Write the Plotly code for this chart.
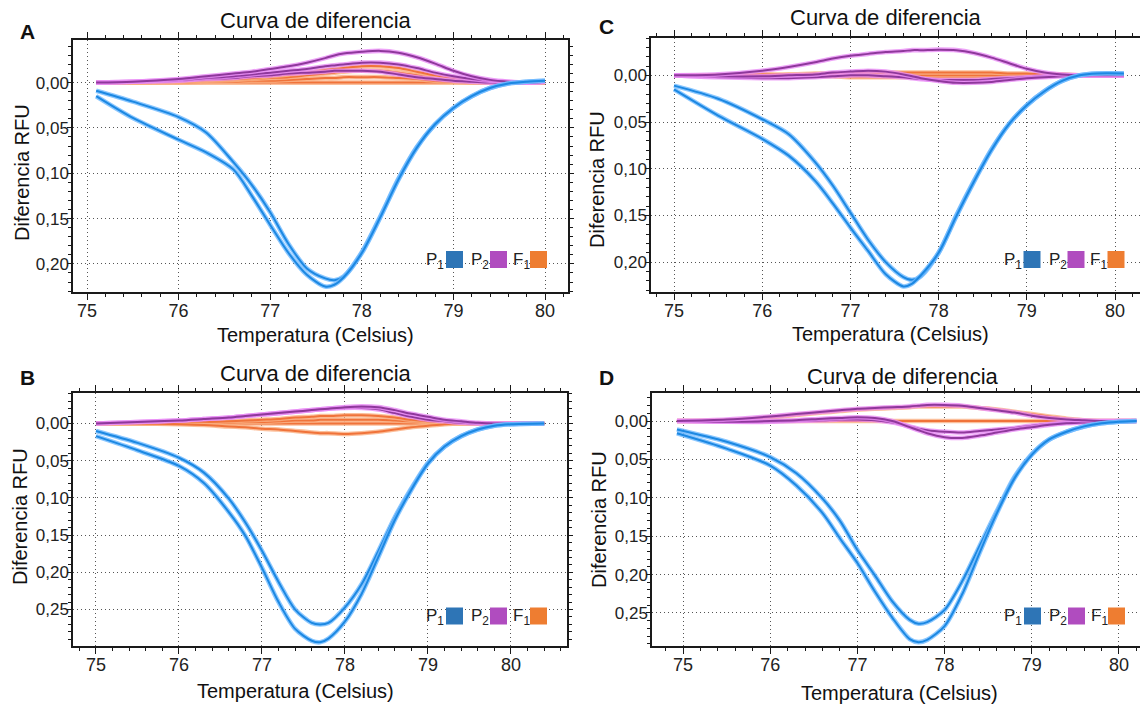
import plotly.graph_objects as go

W, H = 1140, 704

# ---------------- DATA ----------------
# Panel A
x_A = [75.1, 75.5, 76.0, 76.3, 76.6, 76.8, 77.0, 77.2, 77.4, 77.6, 77.7, 77.8, 78.0, 78.2, 78.4, 78.6, 78.8, 79.0, 79.2, 79.4, 79.6, 79.8, 80.0]
A_blue1 = [0.009, 0.021, 0.038, 0.055, 0.088, 0.113, 0.143, 0.178, 0.205, 0.216, 0.218, 0.214, 0.187, 0.148, 0.106, 0.071, 0.046, 0.028, 0.015, 0.006, 0.001, -0.001, -0.002]
A_blue2 = [0.015, 0.039, 0.063, 0.077, 0.096, 0.125, 0.157, 0.188, 0.212, 0.225, 0.223, 0.215, 0.188, 0.149, 0.107, 0.072, 0.046, 0.028, 0.015, 0.006, 0.001, -0.001, -0.002]
A_purple1 = [0, -0.001, -0.004, -0.007, -0.010, -0.012, -0.015, -0.018, -0.022, -0.027, -0.030, -0.032, -0.034, -0.035, -0.033, -0.028, -0.021, -0.013, -0.007, -0.003, -0.001, 0.0, -0.001]
A_purple2 = [0, -0.001, -0.003, -0.005, -0.007, -0.009, -0.011, -0.013, -0.015, -0.018, -0.019, -0.020, -0.022, -0.022, -0.020, -0.016, -0.011, -0.007, -0.004, -0.002, -0.001, 0.0, -0.001]
A_purple3 = [0, -0.001, -0.002, -0.004, -0.005, -0.007, -0.008, -0.010, -0.011, -0.012, -0.013, -0.013, -0.013, -0.012, -0.009, -0.006, -0.004, -0.002, -0.001, 0.0, 0.0, 0.0, -0.001]
A_orange1 = [0, 0.0, -0.002, -0.003, -0.004, -0.005, -0.007, -0.009, -0.011, -0.014, -0.015, -0.016, -0.018, -0.018, -0.016, -0.012, -0.008, -0.005, -0.002, -0.001, 0.0, 0.0, 0.0]
A_orange2 = [0, 0.0, -0.001, -0.002, -0.003, -0.004, -0.005, -0.006, -0.008, -0.010, -0.011, -0.012, -0.013, -0.013, -0.011, -0.008, -0.005, -0.003, -0.001, 0.0, 0.0, 0.0, 0.0]
A_orange3 = [0, 0.0, 0.0, -0.001, -0.001, -0.002, -0.002, -0.003, -0.004, -0.005, -0.005, -0.006, -0.006, -0.006, -0.005, -0.004, -0.002, -0.001, 0.0, 0.0, 0.0, 0.0, 0.0]
A_orange4 = [0.0] * 23

# Panel C
x_C = [75.0, 75.5, 76.0, 76.3, 76.6, 76.8, 77.0, 77.2, 77.4, 77.6, 77.7, 77.8, 78.0, 78.2, 78.4, 78.6, 78.8, 79.0, 79.2, 79.4, 79.6, 79.8, 80.1]
C_blue1 = [0.011, 0.025, 0.047, 0.063, 0.093, 0.118, 0.147, 0.176, 0.200, 0.216, 0.219, 0.215, 0.190, 0.150, 0.113, 0.079, 0.052, 0.032, 0.017, 0.006, 0.0, -0.002, -0.002]
C_blue2 = [0.015, 0.043, 0.068, 0.086, 0.113, 0.137, 0.163, 0.188, 0.213, 0.226, 0.223, 0.214, 0.190, 0.151, 0.114, 0.080, 0.052, 0.032, 0.017, 0.006, 0.0, -0.002, -0.002]
C_purple1 = [0, -0.001, -0.005, -0.009, -0.014, -0.018, -0.021, -0.023, -0.025, -0.026, -0.027, -0.027, -0.0275, -0.027, -0.024, -0.019, -0.013, -0.007, -0.003, -0.001, 0.0, 0.0, 0.0]
C_purple2 = [0, 0.001, 0.001, 0.0, -0.001, -0.003, -0.004, -0.005, -0.004, -0.001, 0.001, 0.003, 0.006, 0.008, 0.008, 0.007, 0.005, 0.003, 0.002, 0.001, 0.0, 0.0, 0.0]
C_purple3 = [0, 0.002, 0.003, 0.003, 0.002, 0.001, 0.0, 0.0, 0.001, 0.002, 0.003, 0.004, 0.005, 0.005, 0.005, 0.004, 0.003, 0.002, 0.001, 0.0, 0.0, 0.0, 0.0]
C_orange1 = [0, 0.0, -0.001, -0.001, -0.002, -0.002, -0.002, -0.003, -0.003, -0.003, -0.003, -0.003, -0.003, -0.003, -0.003, -0.003, -0.002, -0.002, -0.001, -0.001, 0.0, 0.0, 0.0]
C_orange2 = [0.0] * 23
C_orange3 = [0, 0.0, 0.0, 0.001, 0.001, 0.001, 0.002, 0.002, 0.002, 0.002, 0.002, 0.002, 0.002, 0.002, 0.002, 0.002, 0.001, 0.001, 0.001, 0.0, 0.0, 0.0, 0.0]

# Panel B
x_B = [75.0, 75.5, 76.0, 76.3, 76.6, 76.8, 77.0, 77.2, 77.4, 77.6, 77.7, 77.8, 78.0, 78.2, 78.4, 78.6, 78.8, 79.0, 79.2, 79.4, 79.6, 79.8, 80.0, 80.4]
B_blue1 = [0.010, 0.026, 0.046, 0.066, 0.101, 0.133, 0.171, 0.213, 0.250, 0.268, 0.270, 0.268, 0.247, 0.216, 0.172, 0.126, 0.087, 0.053, 0.031, 0.017, 0.008, 0.003, 0.001, 0.0]
B_blue2 = [0.017, 0.036, 0.057, 0.080, 0.119, 0.151, 0.194, 0.240, 0.276, 0.292, 0.294, 0.289, 0.266, 0.229, 0.180, 0.130, 0.089, 0.054, 0.031, 0.017, 0.008, 0.003, 0.001, 0.0]
B_purple1 = [0, -0.002, -0.004, -0.006, -0.008, -0.010, -0.012, -0.014, -0.016, -0.018, -0.019, -0.020, -0.022, -0.023, -0.022, -0.018, -0.013, -0.009, -0.005, -0.003, -0.001, 0.0, 0.0, 0.0]
B_purple2 = [0, -0.002, -0.004, -0.006, -0.008, -0.010, -0.012, -0.014, -0.016, -0.018, -0.019, -0.020, -0.021, -0.021, -0.019, -0.014, -0.009, -0.005, -0.003, -0.001, 0.0, 0.0, 0.0, 0.0]
B_orange1 = [0, 0.0, -0.001, -0.002, -0.003, -0.004, -0.005, -0.006, -0.008, -0.009, -0.010, -0.010, -0.011, -0.011, -0.010, -0.008, -0.005, -0.003, -0.002, -0.001, 0.0, 0.0, 0.0, 0.0]
B_orange2 = [0, 0.0, 0.0, -0.001, -0.001, -0.002, -0.002, -0.003, -0.004, -0.004, -0.005, -0.005, -0.005, -0.005, -0.005, -0.004, -0.003, -0.002, -0.001, 0.0, 0.0, 0.0, 0.0, 0.0]
B_orange3 = [0.0] * 24
B_orange4 = [0, 0.0, 0.001, 0.002, 0.004, 0.005, 0.007, 0.008, 0.010, 0.012, 0.013, 0.013, 0.014, 0.013, 0.011, 0.008, 0.005, 0.003, 0.001, 0.0, 0.0, 0.0, 0.0, 0.0]

# Panel D
x_D = [74.93, 75.5, 76.0, 76.3, 76.6, 76.8, 77.0, 77.2, 77.4, 77.6, 77.7, 77.8, 78.0, 78.2, 78.4, 78.6, 78.8, 79.0, 79.2, 79.4, 79.6, 79.8, 80.0, 80.2]
D_blue1 = [0.011, 0.027, 0.047, 0.068, 0.101, 0.130, 0.168, 0.201, 0.235, 0.259, 0.264, 0.262, 0.246, 0.209, 0.163, 0.117, 0.073, 0.043, 0.024, 0.014, 0.007, 0.003, 0.001, 0.0]
D_blue2 = [0.016, 0.036, 0.058, 0.084, 0.120, 0.153, 0.185, 0.222, 0.256, 0.284, 0.288, 0.285, 0.267, 0.226, 0.172, 0.120, 0.075, 0.044, 0.024, 0.014, 0.007, 0.003, 0.001, 0.0]
D_purple1 = [0, -0.002, -0.006, -0.009, -0.012, -0.014, -0.016, -0.017, -0.018, -0.019, -0.020, -0.021, -0.021, -0.020, -0.017, -0.014, -0.011, -0.007, -0.004, -0.002, -0.001, 0.0, 0.0, 0.0]
D_purple2 = [0, 0.001, 0.0, -0.001, -0.003, -0.004, -0.005, -0.004, 0.0, 0.008, 0.012, 0.016, 0.021, 0.022, 0.019, 0.015, 0.011, 0.008, 0.005, 0.003, 0.002, 0.001, 0.0, 0.0]
D_purple3 = [0, 0.001, 0.001, 0.0, -0.001, -0.002, -0.002, -0.001, 0.002, 0.007, 0.010, 0.012, 0.014, 0.015, 0.013, 0.011, 0.009, 0.006, 0.004, 0.002, 0.001, 0.0, 0.0, 0.0]
D_orange1 = [0, -0.001, -0.005, -0.008, -0.011, -0.013, -0.015, -0.016, -0.017, -0.018, -0.019, -0.019, -0.019, -0.019, -0.017, -0.015, -0.012, -0.009, -0.006, -0.003, -0.001, 0.0, 0.0, 0.0]
D_orange2 = [0.0] * 24

panel_titles = ["Curva de diferencia"] * 4
panel_letters = ["A", "C", "B", "D"]
x_title = "Temperatura (Celsius)"
y_title = "Diferencia RFU"
legend_labels = ["P<sub>1</sub>", "P<sub>2</sub>", "F<sub>1</sub>"]
legend_colors = ["#2e75b6", "#b04cbf", "#ee7d31"]

# ---------------- STYLE ----------------
BLUE = ("#1c88e2", "rgba(110,185,255,0.8)")
PURPLE = ("#8f389c", "rgba(232,140,245,0.8)")
ORANGE = ("#f0733a", "rgba(250,175,130,0.8)")
FONT = "Liberation Sans, Arial, sans-serif"

panels = [
    dict(ax="", x=x_A,
         series=[(A_orange4, ORANGE), (A_orange3, ORANGE), (A_orange2, ORANGE), (A_orange1, ORANGE),
                 (A_purple3, PURPLE), (A_purple2, PURPLE), (A_purple1, PURPLE),
                 (A_blue1, BLUE), (A_blue2, BLUE)],
         xd=(73, 568), yd=(40, 292), xr=[74.847, 80.251], yr=[0.231, -0.047], mirror_y=True,
         title=(316, 20), letter=(27, 31), xt=(316, 335), yt=(22, 173), leg=(547, 259.5)),
    dict(ax="2", x=x_C,
         series=[(C_orange3, ORANGE), (C_orange2, ORANGE), (C_orange1, ORANGE),
                 (C_purple3, PURPLE), (C_purple2, PURPLE), (C_purple1, PURPLE),
                 (C_blue1, BLUE), (C_blue2, BLUE)],
         xd=(651, 1140), yd=(38, 292), xr=[74.739, 80.283], yr=[0.232, -0.040], mirror_y=False,
         title=(886, 17), letter=(606, 27), xt=(890, 334), yt=(597, 180), leg=(1124.5, 259.5)),
    dict(ax="3", x=x_B,
         series=[(B_orange3, ORANGE), (B_orange2, ORANGE), (B_orange1, ORANGE), (B_orange4, ORANGE),
                 (B_purple2, PURPLE), (B_purple1, PURPLE),
                 (B_blue1, BLUE), (B_blue2, BLUE)],
         xd=(73, 567), yd=(393, 646), xr=[74.723, 80.675], yr=[0.299, -0.041], mirror_y=True,
         title=(316, 373), letter=(27, 377), xt=(296, 691), yt=(20, 517), leg=(547, 616)),
    dict(ax="4", x=x_D,
         series=[(D_orange2, ORANGE), (D_orange1, ORANGE),
                 (D_purple3, PURPLE), (D_purple2, PURPLE), (D_purple1, PURPLE),
                 (D_blue1, BLUE), (D_blue2, BLUE)],
         xd=(652, 1140), yd=(393, 646), xr=[74.644, 80.241], yr=[0.293, -0.0365], mirror_y=False,
         title=(903, 376), letter=(606, 377), xt=(899, 693), yt=(599, 520), leg=(1125, 616)),
]


def px(x):
    return x / W


def py(y):
    return 1 - y / H


fig = go.Figure()
annotations = []
shapes = []
layout_axes = {}

for i, p in enumerate(panels):
    s = p["ax"]
    xa, ya = "x" + s, "y" + s
    for yv, (core, halo) in p["series"]:
        fig.add_trace(go.Scatter(x=p["x"], y=yv, xaxis=xa, yaxis=ya, mode="lines",
                                 line=dict(color=halo, width=4.6, shape="spline", smoothing=0.8),
                                 hoverinfo="skip", showlegend=False))
        fig.add_trace(go.Scatter(x=p["x"], y=yv, xaxis=xa, yaxis=ya, mode="lines",
                                 line=dict(color=core, width=2.0, shape="spline", smoothing=0.8),
                                 showlegend=False))

    common = dict(showline=True, linecolor="#1a1a1a", linewidth=1.5,
                  ticks="outside", tickcolor="#1a1a1a", tickwidth=1.2,
                  showgrid=True, gridcolor="#555555", griddash="1px,3px", gridwidth=1.2,
                  zeroline=False, fixedrange=True)
    layout_axes["xaxis" + s] = dict(
        common, domain=[px(p["xd"][0]), px(p["xd"][1])], anchor=ya, range=p["xr"],
        tick0=75, dtick=1, mirror="ticks", ticklen=6,
        tickfont=dict(family=FONT, size=18, color="#222"), ticklabelstandoff=-4,
        minor=dict(ticks="outside", ticklen=3, dtick=0.2, tickcolor="#1a1a1a", showgrid=False))
    layout_axes["yaxis" + s] = dict(
        common, domain=[py(p["yd"][1]), py(p["yd"][0])], anchor=xa, range=p["yr"],
        tick0=0, dtick=0.05, tickformat=".2f", ticklen=4,
        mirror="ticks" if p["mirror_y"] else False,
        tickfont=dict(family=FONT, size=17, color="#222"), ticklabelstandoff=-5,
        minor=dict(ticks="outside", ticklen=3, dtick=0.01, tickcolor="#1a1a1a", showgrid=False))

    tx, ty = p["title"]
    annotations.append(dict(text=panel_titles[i], x=px(tx), y=py(ty), xref="paper", yref="paper",
                            showarrow=False, xanchor="center", yanchor="middle",
                            font=dict(family=FONT, size=22, color="#111")))
    lx, ly = p["letter"]
    annotations.append(dict(text="<b>" + panel_letters[i] + "</b>", x=px(lx), y=py(ly),
                            xref="paper", yref="paper", showarrow=False,
                            xanchor="center", yanchor="middle",
                            font=dict(family=FONT, size=21, color="#111")))
    xx, xy = p["xt"]
    annotations.append(dict(text=x_title, x=px(xx), y=py(xy), xref="paper", yref="paper",
                            showarrow=False, xanchor="center", yanchor="middle",
                            font=dict(family=FONT, size=20, color="#111")))
    yx, yy = p["yt"]
    annotations.append(dict(text=y_title, x=px(yx), y=py(yy), xref="paper", yref="paper",
                            showarrow=False, xanchor="center", yanchor="middle", textangle=-90,
                            font=dict(family=FONT, size=20, color="#111")))

    R, yc = p["leg"]
    sq_right = [R - 84, R - 40, R]
    text_cx = [R - 112, R - 67, R - 26]
    for k in range(3):
        shapes.append(dict(type="rect", xref="paper", yref="paper",
                           x0=px(sq_right[k] - 17), x1=px(sq_right[k]),
                           y0=py(yc + 8.5), y1=py(yc - 8.5),
                           fillcolor=legend_colors[k], line=dict(width=0)))
        annotations.append(dict(text=legend_labels[k], x=px(text_cx[k]), y=py(yc + 1),
                                xref="paper", yref="paper", showarrow=False,
                                xanchor="center", yanchor="middle",
                                font=dict(family=FONT, size=17, color="#222")))

fig.update_layout(
    width=W, height=H, margin=dict(l=0, r=0, t=0, b=0),
    paper_bgcolor="white", plot_bgcolor="white",
    separators=",.", showlegend=False,
    annotations=annotations, shapes=shapes,
    **layout_axes,
)

fig.write_html("out.html")
